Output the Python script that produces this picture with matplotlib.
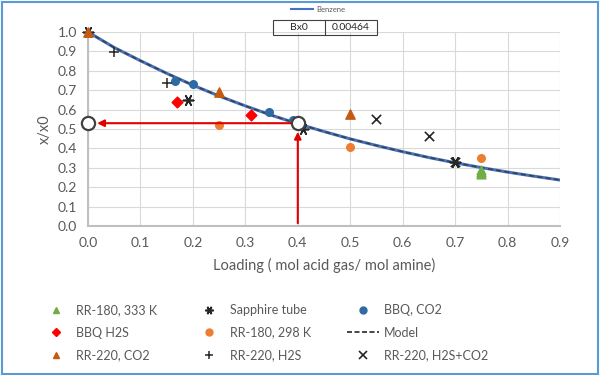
import matplotlib.pyplot as plt
from matplotlib.lines import Line2D
from matplotlib.patches import Rectangle

# model / benzene curve
model_x = [0.0, 0.05, 0.1, 0.15, 0.2, 0.25, 0.3, 0.35, 0.4, 0.45, 0.5,
           0.55, 0.6, 0.65, 0.7, 0.75, 0.8, 0.85, 0.9]
model_y = [1.0, 0.92, 0.852, 0.787, 0.726, 0.670, 0.619, 0.571, 0.527, 0.487, 0.449,
           0.415, 0.383, 0.353, 0.326, 0.301, 0.278, 0.257, 0.237]

rr180_333_x = [0.75, 0.75, 0.75]
rr180_333_y = [0.29, 0.28, 0.27]
sapphire_x = [0.0, 0.19, 0.41, 0.70]
sapphire_y = [1.0, 0.65, 0.50, 0.33]
bbq_co2_x = [0.165, 0.20, 0.345, 0.39]
bbq_co2_y = [0.745, 0.73, 0.59, 0.545]
bbq_h2s_x = [0.17, 0.31]
bbq_h2s_y = [0.64, 0.57]
rr180_298_x = [0.25, 0.50, 0.75]
rr180_298_y = [0.52, 0.405, 0.35]
rr220_co2_x = [0.0, 0.25, 0.50]
rr220_co2_y = [1.0, 0.69, 0.575]
rr220_h2s_x = [0.05, 0.15]
rr220_h2s_y = [0.895, 0.735]
rr220_mix_x = [0.55, 0.65, 0.70]
rr220_mix_y = [0.55, 0.465, 0.33]

read_x = 0.4
read_y = 0.53

grey = '#595959'
plt.rcParams['font.family'] = ['Lato', 'DejaVu Sans']

fig = plt.figure(figsize=(6, 3.75), dpi=100)
ax = fig.add_axes([0.1467, 0.3973, 0.7867, 0.5173])

ax.plot(model_x, model_y, color='#4472c4', lw=2.2, zorder=3)
ax.plot(model_x, model_y, color='#404040', lw=1.2, ls=(0, (3, 2)), zorder=4)

ax.scatter(rr180_333_x, rr180_333_y, marker='^', s=40, color='#70ad47', zorder=5)
ax.scatter(sapphire_x, sapphire_y, marker=(6, 2, 90), s=55, color='#262626', lw=1.2, zorder=5, clip_on=False)
ax.scatter(bbq_co2_x, bbq_co2_y, marker='o', s=30, color='#2e6aa3', zorder=5)
ax.scatter(bbq_h2s_x, bbq_h2s_y, marker='D', s=30, color='#ff0000', zorder=5)
ax.scatter(rr180_298_x, rr180_298_y, marker='o', s=30, color='#ed7d31', zorder=5)
ax.scatter(rr220_co2_x, rr220_co2_y, marker='^', s=45, color='#c55a11', zorder=5, clip_on=False)
ax.scatter(rr220_h2s_x, rr220_h2s_y, marker='+', s=45, color='#262626', lw=1.1, zorder=5)
ax.scatter(rr220_mix_x, rr220_mix_y, marker='x', s=45, color='#262626', lw=1.2, zorder=5)

# read-off arrows
ax.annotate('', xy=(0.012, read_y), xytext=(read_x, read_y),
            arrowprops=dict(arrowstyle='-|>', color='#e00000', lw=1.5, mutation_scale=10), zorder=6)
ax.annotate('', xy=(read_x, read_y - 0.03), xytext=(read_x, 0.0),
            arrowprops=dict(arrowstyle='-|>', color='#e00000', lw=1.5, mutation_scale=10), zorder=6)
ax.scatter([0.0, read_x], [read_y, read_y], marker='o', s=90, facecolor='white',
           edgecolor='#404040', lw=1.6, zorder=7, clip_on=False)

ax.set_xlim(0, 0.9)
ax.set_ylim(0, 1.0)
ax.set_xticks([i / 10 for i in range(10)])
ax.set_yticks([i / 10 for i in range(11)])
ax.xaxis.set_major_formatter(plt.FuncFormatter(lambda v, p: f'{v:.1f}'))
ax.yaxis.set_major_formatter(plt.FuncFormatter(lambda v, p: f'{v:.1f}'))
ax.grid(True, color='#d9d9d9', lw=0.8)
ax.set_axisbelow(True)
for s in ['top', 'right']:
    ax.spines[s].set_visible(False)
for s in ['left', 'bottom']:
    ax.spines[s].set_color('#bfbfbf')
    ax.spines[s].set_linewidth(1.5)
ax.tick_params(length=0, labelsize=10, colors=grey, pad=8)
ax.set_xlabel('Loading ( mol acid gas/ mol amine)', fontsize=10.5, color=grey, labelpad=6)
ax.set_ylabel('x/x0', fontsize=10.5, color=grey, labelpad=4)

# benzene legend at top
fig.legend([Line2D([], [], color='#4472c4', lw=1.5)], ['Benzene'], loc='center',
           bbox_to_anchor=(0.53, 0.975), frameon=False, fontsize=5.5, handlelength=3,
           labelcolor=grey, handletextpad=0.4)

# Bx0 box
fig.patches.append(Rectangle((273 / 600, 1 - 35 / 375), 104 / 600, 15 / 375,
                             transform=fig.transFigure, fill=False, edgecolor='#404040', lw=0.8))
fig.add_artist(Line2D([325 / 600, 325 / 600], [1 - 35 / 375, 1 - 20 / 375],
                      transform=fig.transFigure, color='#404040', lw=0.8))
fig.text(299 / 600, 1 - 27.5 / 375, 'Bx0', ha='center', va='center', fontsize=7.5, color='#262626')
fig.text(351 / 600, 1 - 27.5 / 375, '0.00464', ha='center', va='center', fontsize=7.5, color='#262626')

# bottom legend (column-wise order)
def h(marker, color, ms=5, mew=1.0):
    return Line2D([], [], ls='', marker=marker, color=color, markersize=ms, markeredgewidth=mew)

handles = [h('^', '#70ad47'), h('D', '#ff0000', 4.5), h('^', '#c55a11'),
           h((6, 2, 90), '#262626', 6, 1.2), h('o', '#ed7d31', 5), h('+', '#262626', 6, 1.1),
           h('o', '#2e6aa3', 5), Line2D([], [], color='#262626', ls=(0, (3, 1.5)), lw=1.2),
           h('x', '#262626', 5.5, 1.2)]
labels = ['RR-180, 333 K', 'BBQ H2S', 'RR-220, CO2',
          'Sapphire tube', 'RR-180, 298 K', 'RR-220, H2S',
          'BBQ, CO2', 'Model', 'RR-220, H2S+CO2']
fig.legend(handles, labels, ncol=3, loc='center', bbox_to_anchor=(0.44, 0.113),
           frameon=False, fontsize=9, labelcolor=grey, handlelength=2.5,
           columnspacing=2.9, labelspacing=0.85, handletextpad=0.4)

# outer frame
fig.patches.append(Rectangle((0.003, 0.004), 0.993, 0.992, transform=fig.transFigure,
                             fill=False, edgecolor='#5b9bd5', lw=1.5))

fig.savefig('out.png', dpi=100)
